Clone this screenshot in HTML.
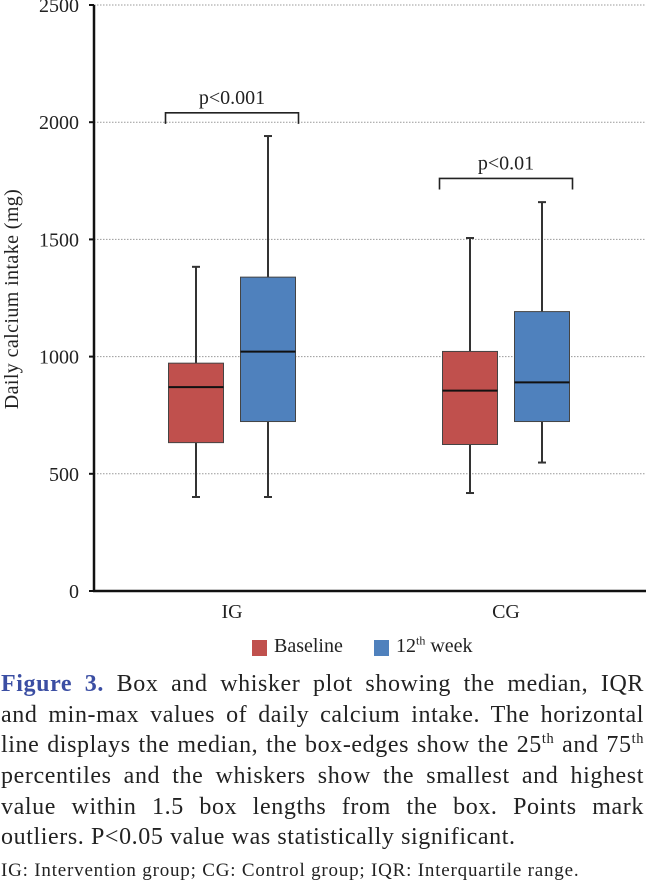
<!DOCTYPE html>
<html><head><meta charset="utf-8"><style>
body{margin:0;width:646px;height:884px;background:#fff;position:relative;overflow:hidden;font-family:"Liberation Serif",serif;color:#222}
.cap{position:absolute;left:1px;width:643px;font-size:24px;letter-spacing:0.6px;line-height:30px;white-space:nowrap;text-align:justify;text-align-last:justify}
sup{font-size:60%;line-height:0}
</style></head><body>
<svg id="chart" width="646" height="625" style="position:absolute;left:0;top:0" font-family="Liberation Serif, serif"></svg>
<div style="position:absolute;top:635px;left:0;width:646px;height:24px;font-size:20px">
 <div style="position:absolute;left:252px;top:5px;width:15px;height:16px;background:#c0504d"></div>
 <div style="position:absolute;left:274px;top:0">Baseline</div>
 <div style="position:absolute;left:374px;top:5px;width:15px;height:16px;background:#4f81bd"></div>
 <div style="position:absolute;left:396px;top:0">12<sup>th</sup> week</div>
</div>
<div>
<div class="cap" style="top:669px"><b style="color:#3b4ea3">Figure 3.</b> Box and whisker plot showing the median, IQR</div>
<div class="cap" style="top:700px">and min-max values of daily calcium intake. The horizontal</div>
<div class="cap" style="top:730px">line displays the median, the box-edges show the 25<sup>th</sup> and 75<sup>th</sup></div>
<div class="cap" style="top:761px">percentiles and the whiskers show the smallest and highest</div>
<div class="cap" style="top:792px">value within 1.5 box lengths from the box. Points mark</div>
<div class="cap" style="top:822px;text-align:left;text-align-last:left">outliers. P&lt;0.05 value was statistically significant.</div>
</div>
<div style="position:absolute;left:1px;top:860px;font-size:19px;letter-spacing:0.8px;white-space:nowrap">IG: Intervention group; CG: Control group; IQR: Interquartile range.</div>
<script>
const groups=["IG","CG"];
const series=["Baseline","12th week"];
const mins=[[401,401],[418,548]];
const q1s=[[633,723],[625,723]];
const medians=[[870,1021],[855,890]];
const q3s=[[972,1339],[1022,1192]];
const maxs=[[1383,1941],[1506,1659]];
const yTicks=[0,500,1000,1500,2000,2500];
const pLabels=["p<0.001","p<0.01"];
const pHeights=[2040,1760];

const NS="http://www.w3.org/2000/svg";
const svg=document.getElementById('chart');
const y0=591,y1=5,ax=94;
function y(v){return y0-(v/2500)*(y0-y1);}
const groupCenters=[232,506];
const boxOffset=[-36,36],boxW=55;
function bx(g,s){return groupCenters[g]+boxOffset[s];}
function mk(tag,attrs){const e=document.createElementNS(NS,tag);for(const k in attrs)e.setAttribute(k,attrs[k]);svg.appendChild(e);return e;}
yTicks.forEach(t=>{
 if(t>0){const gl=mk('line',{x1:ax,x2:646,y1:y(t),y2:y(t),stroke:'#999','stroke-width':1,'stroke-dasharray':'1.5,1.5'});
 
 }
 const tk=mk('line',{x1:ax-5,x2:ax,y1:y(t),y2:y(t),stroke:'#111','stroke-width':2});
 
 
 const tl=mk('text',{x:ax-15,y:y(t)+7,'text-anchor':'end','font-size':20,fill:'#222'});
 tl.textContent=t;
 
 
});
const colors=['#c0504d','#4f81bd'];
groups.forEach((g,gi)=>{
 series.forEach((s,si)=>{
  const cx=bx(gi,si);
  const w=mk('line',{x1:cx,x2:cx,y1:y(maxs[gi][si]),y2:y(mins[gi][si]),stroke:'#333','stroke-width':2});
  
  
  [maxs[gi][si],mins[gi][si]].forEach(v=>{const c=mk('line',{x1:cx-4,x2:cx+4,y1:y(v),y2:y(v),stroke:'#333','stroke-width':2});
   
   });
  const r=mk('rect',{x:cx-boxW/2,y:y(q3s[gi][si]),width:boxW,height:y(q1s[gi][si])-y(q3s[gi][si]),fill:colors[si],stroke:'#444','stroke-width':1});
  
  
  const m=mk('line',{x1:cx-boxW/2,x2:cx+boxW/2,y1:y(medians[gi][si]),y2:y(medians[gi][si]),stroke:'#111','stroke-width':2});
  
  
 });
 const xl=mk('text',{x:groupCenters[gi],y:618,'text-anchor':'middle','font-size':20,fill:'#222'});
 xl.textContent=g;
 
 
 const l=bx(gi,0)-boxW/2-3,rr=bx(gi,1)+boxW/2+3,top=y(pHeights[gi]);
 const br=mk('path',{d:`M${l},${top+11}V${top}H${rr}V${top+11}`,fill:'none',stroke:'#222','stroke-width':1.6});
 
 
 const pt=mk('text',{x:(l+rr)/2,y:top-9,'text-anchor':'middle','font-size':20,fill:'#222'});
 pt.textContent=pLabels[gi];
 
 
});
const ya=mk('line',{x1:ax,x2:ax,y1:y1,y2:y0+1,stroke:'#111','stroke-width':2.5});


const xa=mk('line',{x1:ax-1,x2:646,y1:y0,y2:y0,stroke:'#111','stroke-width':2.5});


const yt=mk('text',{x:0,y:0,transform:'translate(18,299) rotate(-90)','text-anchor':'middle','font-size':20,'letter-spacing':0.4,fill:'#222'});
yt.textContent='Daily calcium intake (mg)';


</script>
</body></html>
